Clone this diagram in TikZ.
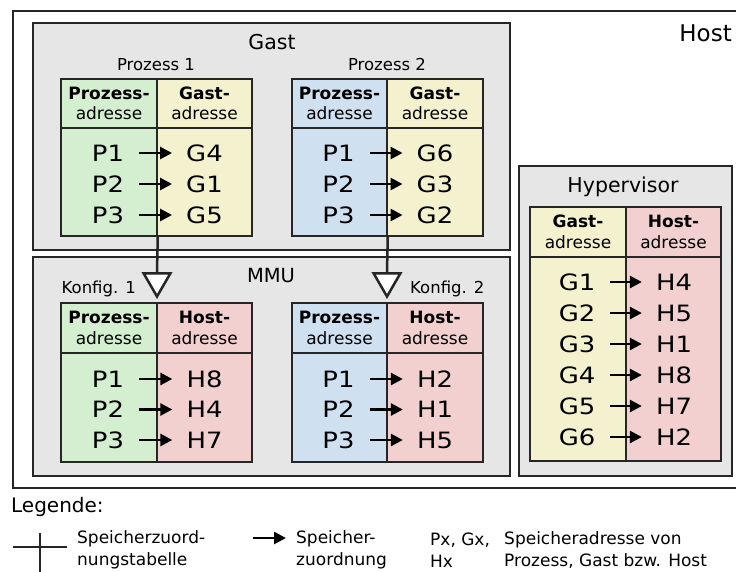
\documentclass[tikz,border=0pt]{standalone}
\usepackage{fontspec}
\setmainfont{DejaVu Sans}
\usetikzlibrary{arrows.meta,shapes.geometric}

\definecolor{procgreen}{HTML}{D4EFD0}
\definecolor{procblue}{HTML}{CFE0F1}
\definecolor{guestyellow}{HTML}{F4F2CE}
\definecolor{hostred}{HTML}{F2D0D0}
\definecolor{boxgray}{HTML}{E6E6E6}
\definecolor{ink}{HTML}{262626}

\newcommand\setfs[2]{\fontsize{#1}{#2}\selectfont}
\newcommand\vtxt[1]{\scalebox{1.15}[1]{#1}}

% one table body: names #1l<i>, #1r<i>; columns at x=#2 and x=#3,
% first row at y=#4, row pitch #5, pairs in #6
\newcommand\maprows[6]{%
  \foreach \lv/\rv [count=\i] in {#6} {
    \node[val] (#1l\i) at (#2,{#4+#5*(\i-1)}) {\vtxt{\lv}};
    \node[val] (#1r\i) at (#3,{#4+#5*(\i-1)}) {\vtxt{\rv}};
    \draw[maparrow] (#1l\i) -- (#1r\i);
  }}

\begin{document}
\begin{tikzpicture}[x=1pt,y=-1pt,
  region/.style={draw=ink, line width=2pt, fill=boxgray},
  hdr/.style={draw=ink, line width=1.5pt, inner sep=0pt, align=center,
    font=\setfs{17}{20.5}},
  cellbody/.style={draw=ink, line width=1.5pt, inner sep=0pt},
  val/.style={inner sep=0pt, font=\setfs{22.5}{26}},
  maparrow/.style={line width=2.6pt, -{Triangle[length=12pt,width=12pt]},
    shorten <=15pt, shorten >=14pt},
  title/.style={inner sep=0pt, anchor=base, font=\setfs{20.5}{24}},
  label/.style={inner sep=0pt, anchor=base, font=\setfs{16.5}{20}},
  link/.style={draw=ink, line width=2.5pt},
  config/.style={regular polygon, regular polygon sides=3,
    shape border rotate=180, draw=ink, fill=white, line width=2.5pt,
    minimum size=31pt, inner sep=0pt},
  legendtext/.style={inner sep=0pt, anchor=west, align=left,
    font=\setfs{17}{22.5}},
]
\useasboundingbox (0,0) rectangle (736,571);

% host frame (open to the right)
\draw[draw=ink, line width=2pt, fill=white] (13,11) rectangle (745,488);
\node[inner sep=0pt, anchor=base east, font=\setfs{23}{27}] (hostlbl) at (732,41.5) {Host};

% guest, MMU and hypervisor regions
\node[region, minimum width=477pt, minimum height=227pt] (gast) at (271.5,136.5) {};
\node[region, minimum width=477pt, minimum height=219pt] (mmu) at (271.5,366.5) {};
\node[region, minimum width=213pt, minimum height=310pt] (hyp) at (625.5,321) {};
\node[title] (gastlbl) at (272,49) {Gast};
\node[title, font=\setfs{19.5}{24}] (mmulbl) at (271,282) {MMU};
\node[title] (hyplbl) at (623,192) {Hypervisor};
\node[label] (p1lbl) at (156,70) {Prozess 1};
\node[label] (p2lbl) at (387,70) {Prozess 2};

% process 1: process -> guest address
\node[hdr, fill=procgreen, minimum width=96pt, minimum height=49pt] (tah1) at (109,103.5) {\textbf{Prozess-}\\adresse};
\node[hdr, fill=guestyellow, minimum width=95pt, minimum height=49pt] (tah2) at (204.5,103.5) {\textbf{Gast-}\\adresse};
\node[cellbody, fill=procgreen, minimum width=96pt, minimum height=108pt] (tab1) at (109,182) {};
\node[cellbody, fill=guestyellow, minimum width=95pt, minimum height=108pt] (tab2) at (204.5,182) {};
\maprows{ta}{108}{204.5}{153}{31}{P1/G4,P2/G1,P3/G5}

% process 2: process -> guest address
\node[hdr, fill=procblue, minimum width=95pt, minimum height=49pt] (tbh1) at (339.5,103.5) {\textbf{Prozess-}\\adresse};
\node[hdr, fill=guestyellow, minimum width=96pt, minimum height=49pt] (tbh2) at (435,103.5) {\textbf{Gast-}\\adresse};
\node[cellbody, fill=procblue, minimum width=95pt, minimum height=108pt] (tbb1) at (339.5,182) {};
\node[cellbody, fill=guestyellow, minimum width=96pt, minimum height=108pt] (tbb2) at (435,182) {};
\maprows{tb}{338.5}{435}{153}{31}{P1/G6,P2/G3,P3/G2}

% MMU configuration 1: process -> host address
\node[hdr, fill=procgreen, minimum width=96pt, minimum height=50pt] (tch1) at (109,328) {\textbf{Prozess-}\\adresse};
\node[hdr, fill=hostred, minimum width=95pt, minimum height=50pt] (tch2) at (204.5,328) {\textbf{Host-}\\adresse};
\node[cellbody, fill=procgreen, minimum width=96pt, minimum height=109pt] (tcb1) at (109,407.5) {};
\node[cellbody, fill=hostred, minimum width=95pt, minimum height=109pt] (tcb2) at (204.5,407.5) {};
\maprows{tc}{108}{204.5}{379}{30.5}{P1/H8,P2/H4,P3/H7}

% MMU configuration 2: process -> host address
\node[hdr, fill=procblue, minimum width=95pt, minimum height=50pt] (tdh1) at (339.5,328) {\textbf{Prozess-}\\adresse};
\node[hdr, fill=hostred, minimum width=96pt, minimum height=50pt] (tdh2) at (435,328) {\textbf{Host-}\\adresse};
\node[cellbody, fill=procblue, minimum width=95pt, minimum height=109pt] (tdb1) at (339.5,407.5) {};
\node[cellbody, fill=hostred, minimum width=96pt, minimum height=109pt] (tdb2) at (435,407.5) {};
\maprows{td}{338.5}{435}{379}{30.5}{P1/H2,P2/H1,P3/H5}

% hypervisor: guest -> host address
\node[hdr, fill=guestyellow, minimum width=96pt, minimum height=50pt] (teh1) at (578,232) {\textbf{Gast-}\\adresse};
\node[hdr, fill=hostred, minimum width=95pt, minimum height=50pt] (teh2) at (673.5,232) {\textbf{Host-}\\adresse};
\node[cellbody, fill=guestyellow, minimum width=96pt, minimum height=204pt] (teb1) at (578,359) {};
\node[cellbody, fill=hostred, minimum width=95pt, minimum height=204pt] (teb2) at (673.5,359) {};
\maprows{te}{577}{674}{282}{31}{G1/H4,G2/H5,G3/H1,G4/H8,G5/H7,G6/H2}

% configuration links from the process tables into the MMU
\node[config] (k1) at (157,281) {};
\node[config] (k2) at (387,281) {};
\draw[link] (tab1.south east) -- (k1.north);
\draw[link] (tbb1.south east) -- (k2.north);
\node[label, anchor=base east] (k1lbl) at (136,293) {Konfig. 1};
\node[label, anchor=base west] (k2lbl) at (410,293) {Konfig. 2};

% legend
\node[inner sep=0pt, anchor=west, font=\setfs{20}{24}] (leg) at (11,507) {Legende:};
\coordinate (crL) at (13,547);
\coordinate (crR) at (67,547);
\coordinate (crT) at (40,533);
\coordinate (crB) at (40,575);
\draw[ink, line width=1.5pt] (crL) -- (crR) (crT) -- (crB);
\node[legendtext] (lg1) at (77,550) {Speicherzuord-\\nungstabelle};
\coordinate (arA) at (253,538);
\coordinate (arB) at (286,538);
\draw[line width=2.6pt, -{Triangle[length=12pt,width=12pt]}] (arA) -- (arB);
\node[legendtext] (lg2) at (296,550) {Speicher-\\zuordnung};
\node[legendtext] (lg3) at (430,550) {Px, Gx,\\Hx};
\node[legendtext] (lg4) at (504,550) {Speicheradresse von\\Prozess, Gast bzw. Host};
\end{tikzpicture}
\end{document}
